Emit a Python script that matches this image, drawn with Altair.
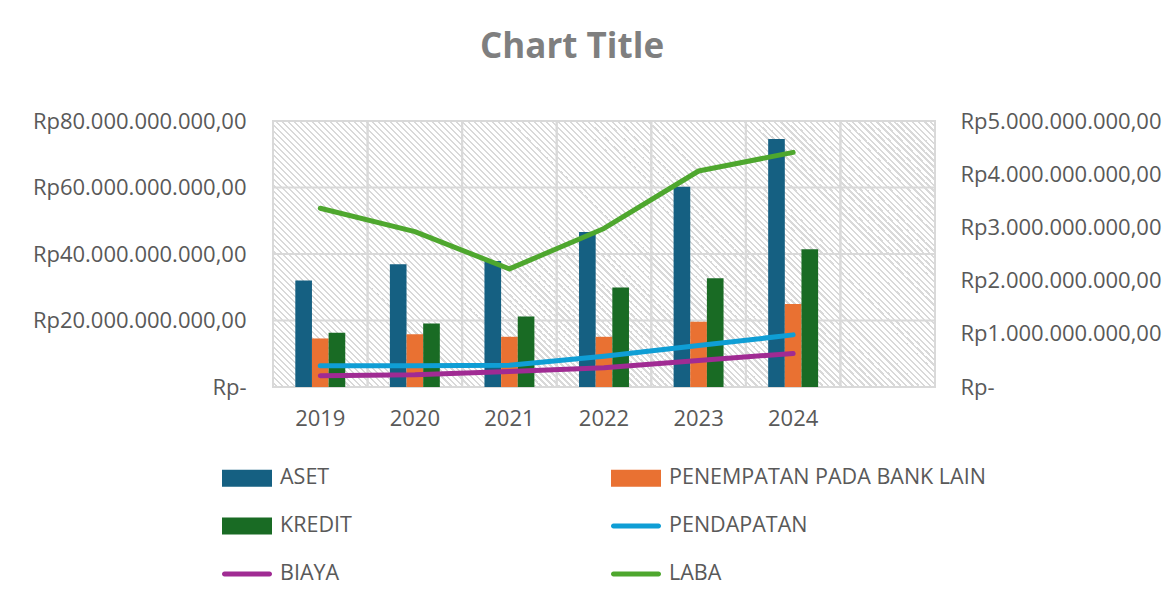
import altair as alt
import pandas as pd

# ---------------- data ----------------
years = ['2019', '2020', '2021', '2022', '2023', '2024']
empty_slot = [' ']
# left axis series (Rp, billions)
aset = [32.0, 36.9, 37.9, 46.6, 60.2, 74.6]
penempatan = [14.6, 15.9, 15.1, 15.1, 19.6, 25.0]
kredit = [16.3, 19.1, 21.2, 29.9, 32.7, 41.4]
# right axis series (Rp, billions)
pendapatan = [0.40, 0.40, 0.41, 0.58, 0.78, 0.98]
biaya = [0.21, 0.23, 0.29, 0.36, 0.50, 0.63]
laba = [3.36, 2.92, 2.22, 2.98, 4.06, 4.41]

bar_series = ['ASET', 'PENEMPATAN PADA BANK LAIN', 'KREDIT']
line_series = ['PENDAPATAN', 'BIAYA', 'LABA']
legend_order = bar_series + line_series
colors = ['#156082', '#E97132', '#196B24', '#0F9ED5', '#A02B93', '#4EA72E']
left_ticks = [0, 20, 40, 60, 80]
right_ticks = [0, 1, 2, 3, 4, 5]

B = 1e9
bar_rows = []
for name, vals in zip(bar_series, [aset, penempatan, kredit]):
    for y, v in zip(years, vals):
        bar_rows.append({'year': y, 'series': name, 'value': v * B})
line_rows = []
for name, vals in zip(line_series, [pendapatan, biaya, laba]):
    for y, v in zip(years, vals):
        line_rows.append({'year': y, 'series': name, 'value': v * B})
bars_df = pd.DataFrame(bar_rows)
lines_df = pd.DataFrame(line_rows)
legend_df = pd.DataFrame({'series': legend_order})
bg_df = pd.DataFrame({'panel': ['plot']})
hgrid_df = pd.DataFrame({'value': [t * B for t in left_ticks]})
vgrid_df = pd.DataFrame({'year': years + empty_slot})

FONT = 'Open Sans'
TXT = '#595959'
GRID = '#d9d9d9'
W, H = 662, 266
AX_FS = 22

label_expr = ("datum.value == 0 ? 'Rp-' : 'Rp' + format(datum.value / 1e9, 'd') "
              "+ '.000.000.000,00'")

x_scale = alt.Scale(domain=years + empty_slot, paddingInner=0, paddingOuter=0)
x_axis = alt.Axis(title=None, labelAngle=0, grid=False, ticks=False, domain=False,
                  labelFont=FONT, labelFontSize=AX_FS, labelColor=TXT, labelPadding=21)

color_scale = alt.Scale(domain=legend_order, range=colors)
bar_sym = 'M-1,-0.34H1V0.34H-1Z'
line_sym = 'M-0.9,-0.1H0.9A0.1,0.1 0 0 1 0.9,0.1H-0.9A0.1,0.1 0 0 1 -0.9,-0.1Z'
shape_scale = alt.Scale(domain=legend_order,
                        range=[bar_sym] * len(bar_series) + [line_sym] * len(line_series))

legend = alt.Legend(
    title=None, orient='none', legendX=-51, legendY=332, columns=2, direction='horizontal',
    columnPadding=14, rowPadding=12, gridAlign='all',
    symbolSize=2500, symbolOpacity=1, symbolStrokeWidth=0,
    labelFont=FONT, labelFontSize=21.5, labelColor=TXT,
    labelOffset=8, labelLimit=400,
)

# diagonal hatch background (style only)
r = H / W
s = (1 + r) / (1 + r * r)
span_px = W + H          # range of (x - y) across the plot
period = 6.0 / span_px
stops = []
k = 0
while k * period < 1:
    a = k * period
    stops.append(alt.GradientStop(offset=a, color='#ffffff'))
    stops.append(alt.GradientStop(offset=min(1, a + 0.55 * period), color='#ffffff'))
    stops.append(alt.GradientStop(offset=min(1, a + 0.55 * period), color='#d9d9d9'))
    stops.append(alt.GradientStop(offset=min(1, a + period), color='#d9d9d9'))
    k += 1
hatch = alt.LinearGradient(gradient='linear', x1=0, y1=1, x2=s, y2=1 - r * s, stops=stops)

background = alt.Chart(bg_df).mark_rect(fill=hatch, stroke=GRID, strokeWidth=2).encode(
    x=alt.value(0), x2=alt.value('width'), y=alt.value(0), y2=alt.value('height'),
)

hgrid = alt.Chart(hgrid_df).mark_rule(color=GRID, strokeWidth=2).encode(
    y=alt.Y('value:Q', scale=alt.Scale(domain=[0, 80 * B]), axis=None),
)
# outlined year bands give the vertical grid at the category boundaries;
# this layer also carries the x axis (labels centred in each band)
vgrid = alt.Chart(vgrid_df).mark_rect(filled=False, stroke=GRID, strokeWidth=2).encode(
    x=alt.X('year:N', scale=x_scale, axis=x_axis),
)

# invisible layer that only carries the combined colour/shape legend
legend_layer = alt.Chart(legend_df).mark_point(filled=True, opacity=0).encode(
    x=alt.value(0), y=alt.value(0),
    color=alt.Color('series:N', scale=color_scale, legend=legend),
    shape=alt.Shape('series:N', scale=shape_scale, legend=legend),
)

# empty slots either side of the bar group keep the group narrow inside each year band
offset_domain = ['_l'] + bar_series + ['_r']

bars = alt.Chart(bars_df).mark_bar().encode(
    x=alt.X('year:N', scale=x_scale, axis=x_axis),
    xOffset=alt.XOffset('series:N', scale=alt.Scale(domain=offset_domain, paddingInner=0,
                                                     paddingOuter=0.34)),
    y=alt.Y('value:Q', scale=alt.Scale(domain=[0, 80 * B]),
            axis=alt.Axis(title=None, values=[t * B for t in left_ticks], labelExpr=label_expr,
                          grid=False, ticks=False, domain=False, labelLimit=400,
                          labelFont=FONT, labelFontSize=AX_FS, labelColor=TXT, labelPadding=27)),
    color=alt.Color('series:N', scale=color_scale, legend=None),
)

lines = alt.Chart(lines_df).mark_line(strokeWidth=5, strokeCap='round', strokeJoin='round').encode(
    x=alt.X('year:N', scale=x_scale, axis=x_axis),
    y=alt.Y('value:Q', scale=alt.Scale(domain=[0, 5 * B]),
            axis=alt.Axis(title=None, orient='right', values=[t * B for t in right_ticks],
                          labelExpr=label_expr, grid=False, ticks=False, domain=False,
                          labelLimit=400,
                          labelFont=FONT, labelFontSize=AX_FS, labelColor=TXT, labelPadding=25)),
    color=alt.Color('series:N', scale=color_scale, legend=None),
    detail='series:N',
)

chart = alt.layer(background, hgrid, vgrid, legend_layer, bars, lines).resolve_scale(
    y='independent').properties(
    width=W, height=H,
    title=alt.TitleParams('Chart Title', anchor='middle', font=FONT, fontSize=35,
                          fontWeight='bold', color='#7f7f7f', dx=-32, offset=45),
    padding={'left': 273, 'top': 121, 'right': 239, 'bottom': 215},
    autosize='none',
).configure_view(stroke=None).configure(background='white')

chart.save('out.html', embed_options={'renderer': 'svg', 'actions': False})
